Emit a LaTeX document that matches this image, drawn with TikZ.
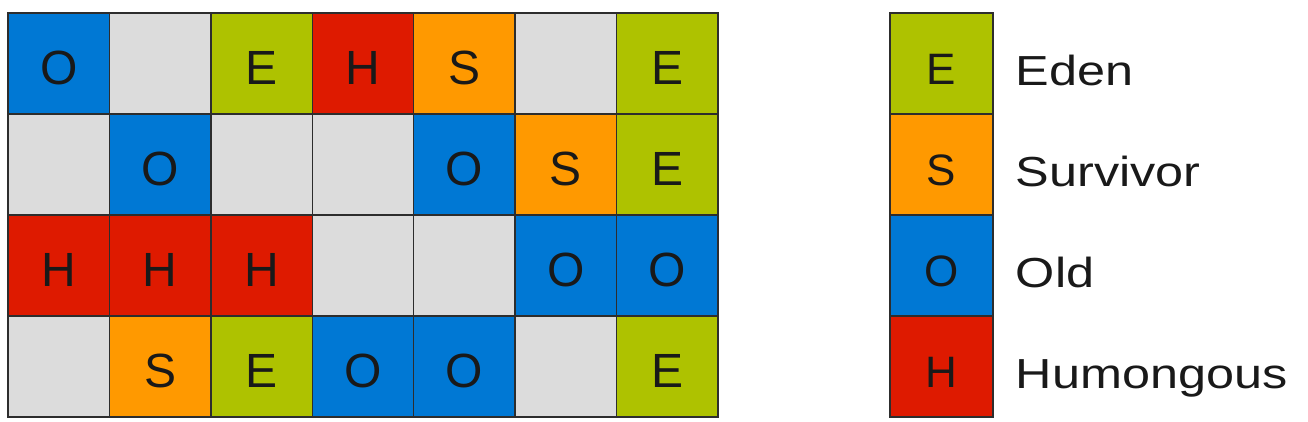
\documentclass[tikz,border=0pt]{standalone}
\usepackage{fontspec}
\setmainfont{Liberation Sans}
\newfontfamily\widefont[FakeStretch=1.2]{Liberation Sans}
\usetikzlibrary{positioning}

\definecolor{edenc}{RGB}{174,194,0}
\definecolor{survc}{RGB}{255,153,0}
\definecolor{oldc}{RGB}{0,120,212}
\definecolor{humc}{RGB}{222,26,0}
\definecolor{freec}{RGB}{220,220,220}
\definecolor{edgec}{RGB}{45,45,45}

\begin{document}
\begin{tikzpicture}[
        x=101.4pt, y=-101pt,
        region/.style={
          draw=edgec, line width=1.4pt, inner sep=0pt,
          minimum width=101.4pt, minimum height=101pt,
          font=\fontsize{48}{52}\selectfont, text=black!90,
          text height=42pt, text depth=0pt
        },
        eden/.style={region, fill=edenc},
        surv/.style={region, fill=survc},
        old/.style={region, fill=oldc},
        hum/.style={region, fill=humc},
        free/.style={region, fill=freec},
        legbox/.style={
          region, minimum width=103pt, font=\fontsize{44}{48}\selectfont,
          text height=42pt
        },
        lbl/.style={
          inner sep=0pt, font=\widefont\fontsize{42}{48}\selectfont, text=black!90
        },
      ]
        \useasboundingbox (-8pt,13pt) rectangle (1300pt,-409pt);

        % Row 1
        \node [old]  (r1c1) at (0.5,0.5) {O};
        \node [free] (r1c2) at (1.5,0.5) {};
        \node [eden] (r1c3) at (2.5,0.5) {E};
        \node [hum]  (r1c4) at (3.5,0.5) {H};
        \node [surv] (r1c5) at (4.5,0.5) {S};
        \node [free] (r1c6) at (5.5,0.5) {};
        \node [eden] (r1c7) at (6.5,0.5) {E};

        % Row 2
        \node [free] (r2c1) at (0.5,1.5) {};
        \node [old]  (r2c2) at (1.5,1.5) {O};
        \node [free] (r2c3) at (2.5,1.5) {};
        \node [free] (r2c4) at (3.5,1.5) {};
        \node [old]  (r2c5) at (4.5,1.5) {O};
        \node [surv] (r2c6) at (5.5,1.5) {S};
        \node [eden] (r2c7) at (6.5,1.5) {E};

        % Row 3
        \node [hum]  (r3c1) at (0.5,2.5) {H};
        \node [hum]  (r3c2) at (1.5,2.5) {H};
        \node [hum]  (r3c3) at (2.5,2.5) {H};
        \node [free] (r3c4) at (3.5,2.5) {};
        \node [free] (r3c5) at (4.5,2.5) {};
        \node [old]  (r3c6) at (5.5,2.5) {O};
        \node [old]  (r3c7) at (6.5,2.5) {O};

        % Row 4
        \node [free] (r4c1) at (0.5,3.5) {};
        \node [surv] (r4c2) at (1.5,3.5) {S};
        \node [eden] (r4c3) at (2.5,3.5) {E};
        \node [old]  (r4c4) at (3.5,3.5) {O};
        \node [old]  (r4c5) at (4.5,3.5) {O};
        \node [free] (r4c6) at (5.5,3.5) {};
        \node [eden] (r4c7) at (6.5,3.5) {E};

        % Legend
        \node [legbox, fill=edenc] (legE) at (9.206,0.5) {E};
        \node [legbox, fill=survc] (legS) at (9.206,1.5) {S};
        \node [legbox, fill=oldc]  (legO) at (9.206,2.5) {O};
        \node [legbox, fill=humc]  (legH) at (9.206,3.5) {H};
        \node [lbl, right=22pt of legE.east, yshift=-22pt, anchor=base west] (lblE) {Eden};
        \node [lbl, right=22pt of legS.east, yshift=-22pt, anchor=base west] (lblS) {Survivor};
        \node [lbl, right=22pt of legO.east, yshift=-22pt, anchor=base west] (lblO) {Old};
        \node [lbl, right=22pt of legH.east, yshift=-22pt, anchor=base west] (lblH) {Humongous};

      \end{tikzpicture}
\end{document}
